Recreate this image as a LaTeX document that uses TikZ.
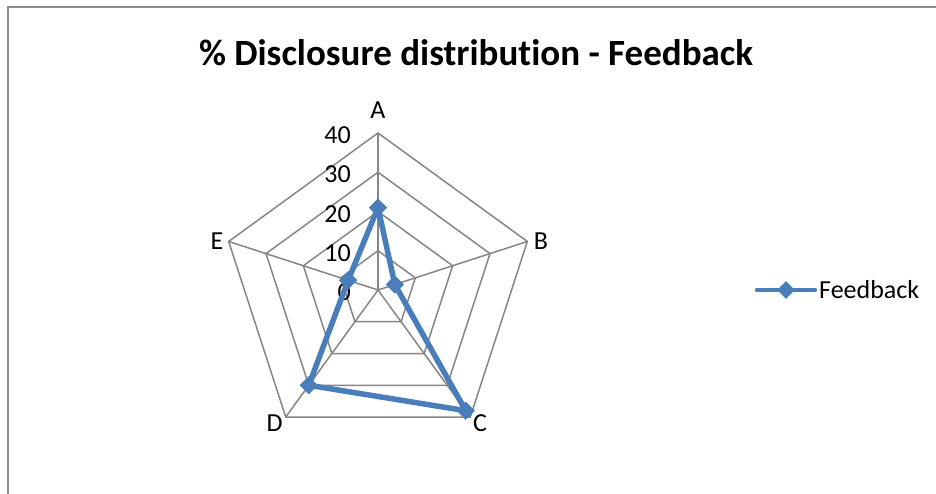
\documentclass[tikz,border=0pt]{standalone}
\usepackage{fontspec}
\setmainfont{Carlito}[Ligatures=NoCommon]
\usetikzlibrary{shapes.geometric}

\definecolor{gridgray}{HTML}{868686}
\definecolor{framegray}{HTML}{8C8C8C}
\definecolor{serieblue}{HTML}{4A7EBB}

\tikzset{
  ring/.style={draw=gridgray, line width=1.5pt},
  spoke/.style={draw=gridgray, line width=1.5pt},
  serie/.style={draw=serieblue, line width=5.5pt, line join=round},
  diam/.style={diamond, fill=serieblue, inner sep=0pt, minimum width=18pt, minimum height=18pt},
  lbl/.style={font=\fontsize{26}{29}\selectfont, inner sep=0pt}
}

\begin{document}
\begin{tikzpicture}[x=1pt, y=1pt]
\useasboundingbox (0,0) rectangle (936,494);
\fill[white] (0,0) rectangle (936,494);
\draw[framegray, line width=2pt] (7.5,0) -- (7.5,486.5) -- (936,486.5);

\node[font=\fontsize{37}{41}\selectfont\bfseries, inner sep=0pt] (title) at (476,441) {\% Disclosure distribution - Feedback};

% grid
\coordinate (o) at (378,204);
\begin{scope}[shift={(o)}]
\draw[ring] (90:39.25) -- (18:39.25) -- (-54:39.25) -- (-126:39.25) -- (162:39.25) -- cycle;
\draw[ring] (90:78.5) -- (18:78.5) -- (-54:78.5) -- (-126:78.5) -- (162:78.5) -- cycle;
\draw[ring] (90:117.75) -- (18:117.75) -- (-54:117.75) -- (-126:117.75) -- (162:117.75) -- cycle;
\draw[ring] (90:157) -- (18:157) -- (-54:157) -- (-126:157) -- (162:157) -- cycle;
\coordinate (aA) at (90:157);
\coordinate (aB) at (18:157);
\coordinate (aC) at (-54:157);
\coordinate (aD) at (-126:157);
\coordinate (aE) at (162:157);
\end{scope}
\draw[spoke] (o) -- (aA);
\draw[spoke] (o) -- (aB);
\draw[spoke] (o) -- (aC);
\draw[spoke] (o) -- (aD);
\draw[spoke] (o) -- (aE);

% axis names
\node[lbl] (A) at (378,384) {A};
\node[lbl] (B) at (541,253) {B};
\node[lbl] (C) at (480,71) {C};
\node[lbl] (D) at (274.5,71) {D};
\node[lbl] (E) at (217,253) {E};

% scale
\node[lbl, anchor=east] (t0) at (351,202) {0};
\node[lbl, anchor=east] (t10) at (351,241) {10};
\node[lbl, anchor=east] (t20) at (351,280) {20};
\node[lbl, anchor=east] (t30) at (351,320) {30};
\node[lbl, anchor=east] (t40) at (351,359) {40};

% data
\begin{scope}[shift={(o)}]
\node[diam] (pA) at (90:82.4) {};
\node[diam] (pB) at (18:17.7) {};
\node[diam] (pC) at (-54:149.2) {};
\node[diam] (pD) at (-126:117.75) {};
\node[diam] (pE) at (162:31.4) {};
\end{scope}
\draw[serie] (pA.center) -- (pB.center) -- (pC.center) -- (pD.center) -- (pE.center) -- cycle;
\node[diam] at (pA) {};
\node[diam] at (pB) {};
\node[diam] at (pC) {};
\node[diam] at (pD) {};
\node[diam] at (pE) {};

% legend
\coordinate (l1) at (757,204);
\coordinate (l2) at (815,204);
\draw[serie, line width=4.5pt, line cap=round] (l1) -- (l2);
\node[diam] (lm) at (786,204) {};
\node[lbl, anchor=west] (leg) at (819,204) {Feedback};
\end{tikzpicture}
\end{document}
